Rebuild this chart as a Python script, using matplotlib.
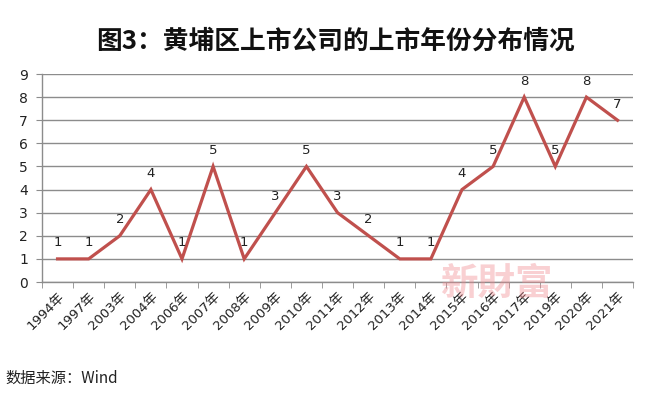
import matplotlib
matplotlib.use("Agg")
import matplotlib.pyplot as plt
import numpy as np

plt.rcParams["font.family"] = ["DejaVu Sans", "Noto Sans CJK SC"]

# data
years = ["1994年", "1997年", "2003年", "2004年", "2006年", "2007年", "2008年",
         "2009年", "2010年", "2011年", "2012年", "2013年", "2014年", "2015年",
         "2016年", "2017年", "2019年", "2020年", "2021年"]
counts = [1, 1, 2, 4, 1, 5, 1, 3, 5, 3, 2, 1, 1, 4, 5, 8, 5, 8, 7]
yticks = list(range(0, 10))

title = "图3：黄埔区上市公司的上市年份分布情况"
source = "数据来源：Wind"
watermark = "新財富"

line_color = "#C0504D"
grid_color = "#8C8C8C"

fig = plt.figure(figsize=(6.5, 3.99), dpi=100)
ax = fig.add_axes([0.0646, 0.2932, 0.9094, 0.5213])

x = np.arange(len(years))
ax.plot(x, counts, color=line_color, linewidth=2.3, solid_joinstyle="miter",
        zorder=3)

for xi, v in zip(x, counts):
    ax.annotate(str(v), (xi, v), xytext=(0, 11.5), textcoords="offset points",
                ha="center", va="center", fontsize=9.5, color="#222222",
                zorder=4)

ax.set_xlim(-0.5, len(years) - 0.5)
ax.set_ylim(0, 9)
ax.set_yticks(yticks)
ax.set_yticklabels([str(t) for t in yticks], fontsize=10, color="#222222")
ax.yaxis.grid(True, color=grid_color, linewidth=1.0)
ax.set_axisbelow(True)

# category labels at centres, tick marks at category boundaries
ax.set_xticks(x)
ax.set_xticklabels(years, rotation=45, ha="right", va="top",
                   rotation_mode="anchor", fontsize=9.5,
                   family=["DejaVu Sans", "Noto Sans CJK SC"],
                   color="#222222")
ax.tick_params(axis="x", which="major", length=0, pad=6)
ax.set_xticks(np.arange(-0.5, len(years)), minor=True)
ax.tick_params(axis="x", which="minor", length=4, color=grid_color,
               direction="out")
ax.tick_params(axis="y", length=4, color=grid_color, pad=6)

for side in ["top", "right"]:
    ax.spines[side].set_visible(False)
for side in ["left", "bottom"]:
    ax.spines[side].set_color(grid_color)
    ax.spines[side].set_linewidth(1.0)

fig.text(0.516, 0.897, title, ha="center", va="center", fontsize=18.5,
         fontweight="bold", family=["Noto Sans CJK SC"], color="#111111")
fig.text(0.008, 0.053, source, ha="left", va="center", fontsize=11,
         family=["Noto Sans CJK SC", "DejaVu Sans"], color="#222222")
fig.text(0.764, 0.29, watermark, ha="center", va="center", fontsize=27,
         fontweight="bold", family=["Noto Sans CJK SC"], color="#F08A90",
         alpha=0.4)

fig.savefig("out.png", dpi=100, facecolor="white")
